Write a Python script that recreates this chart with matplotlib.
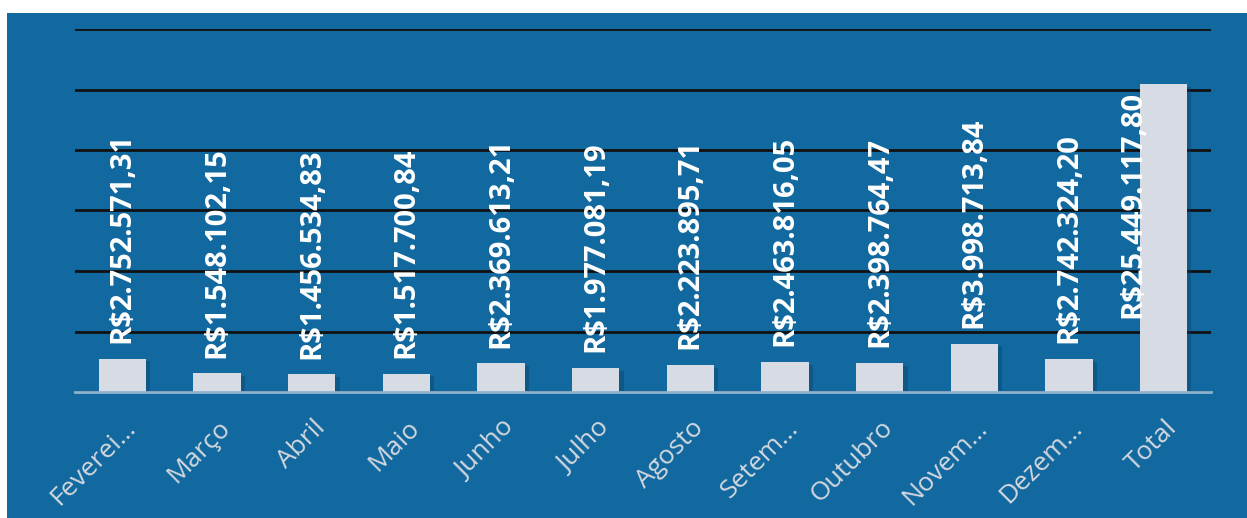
import matplotlib.pyplot as plt
from matplotlib.patches import Rectangle
import matplotlib.patheffects as pe
import matplotlib.transforms as mtransforms

# Data
meses = ['Feverei…', 'Março', 'Abril', 'Maio', 'Junho', 'Julho', 'Agosto',
         'Setem…', 'Outubro', 'Novem…', 'Dezem…', 'Total']
valores = [2752571.31, 1548102.15, 1456534.83, 1517700.84, 2369613.21,
           1977081.19, 2223895.71, 2463816.05, 2398764.47, 3998713.84,
           2742324.20, 25449117.80]
rotulos = ['R$2.752.571,31', 'R$1.548.102,15', 'R$1.456.534,83', 'R$1.517.700,84',
           'R$2.369.613,21', 'R$1.977.081,19', 'R$2.223.895,71', 'R$2.463.816,05',
           'R$2.398.764,47', 'R$3.998.713,84', 'R$2.742.324,20', 'R$25.449.117,80']

BLUE = '#1169a0'
BAR = '#d6dbe4'

W, H = 1247, 518
fig = plt.figure(figsize=(W / 100, H / 100), dpi=100, facecolor='white')
fig.patches.append(Rectangle((7 / W, 0), 1 - 7 / W, 1 - 13 / H, transform=fig.transFigure,
                             facecolor=BLUE, edgecolor='none', zorder=-10))

ax = fig.add_axes([75 / W, 126 / H, (1211 - 75) / W, (489 - 126) / H])
ax.set_facecolor(BLUE)

x = range(len(meses))
bars = ax.bar(x, valores, width=0.5, color=BAR, zorder=3,
              path_effects=[pe.SimplePatchShadow(offset=(3, -2), shadow_rgbFace='#0a3f63', alpha=0.4),
                            pe.Normal()])

ax.set_ylim(0, 30e6)
ax.set_xlim(-0.5, len(meses) - 0.5)
ax.set_yticks([i * 5e6 for i in range(7)])
ax.yaxis.grid(True, color='#111111', linewidth=2)
ax.set_axisbelow(True)
ax.tick_params(axis='y', left=False, labelleft=False)
ax.tick_params(axis='x', bottom=False, length=0, pad=17)
for s in ['top', 'right', 'left']:
    ax.spines[s].set_visible(False)
ax.spines['bottom'].set_color('#8fb2cf')
ax.spines['bottom'].set_linewidth(2)
ax.spines['bottom'].set_zorder(4)

ax.set_xticks(list(x))
ax.set_xticklabels(meses, rotation=45, ha='right', rotation_mode='anchor',
                   fontsize=19, color='#d4d8df', family='Open Sans')
offset = mtransforms.ScaledTranslation(1 / 100, 0, fig.dpi_scale_trans)
for lbl in ax.get_xticklabels():
    lbl.set_transform(lbl.get_transform() + offset)

for i, (v, r) in enumerate(zip(valores, rotulos)):
    if i == len(valores) - 1:
        ax.text(i - 0.32, 6.1e6, r, rotation=90, ha='center', va='bottom',
                fontsize=21, fontweight='bold', color='white', family='Open Sans', zorder=5)
    else:
        ax.text(i, v + 1.3e6, r, rotation=90, ha='center', va='bottom',
                fontsize=21, fontweight='bold', color='white', family='Open Sans', zorder=5)

fig.savefig('out.png', dpi=100, facecolor='white')
